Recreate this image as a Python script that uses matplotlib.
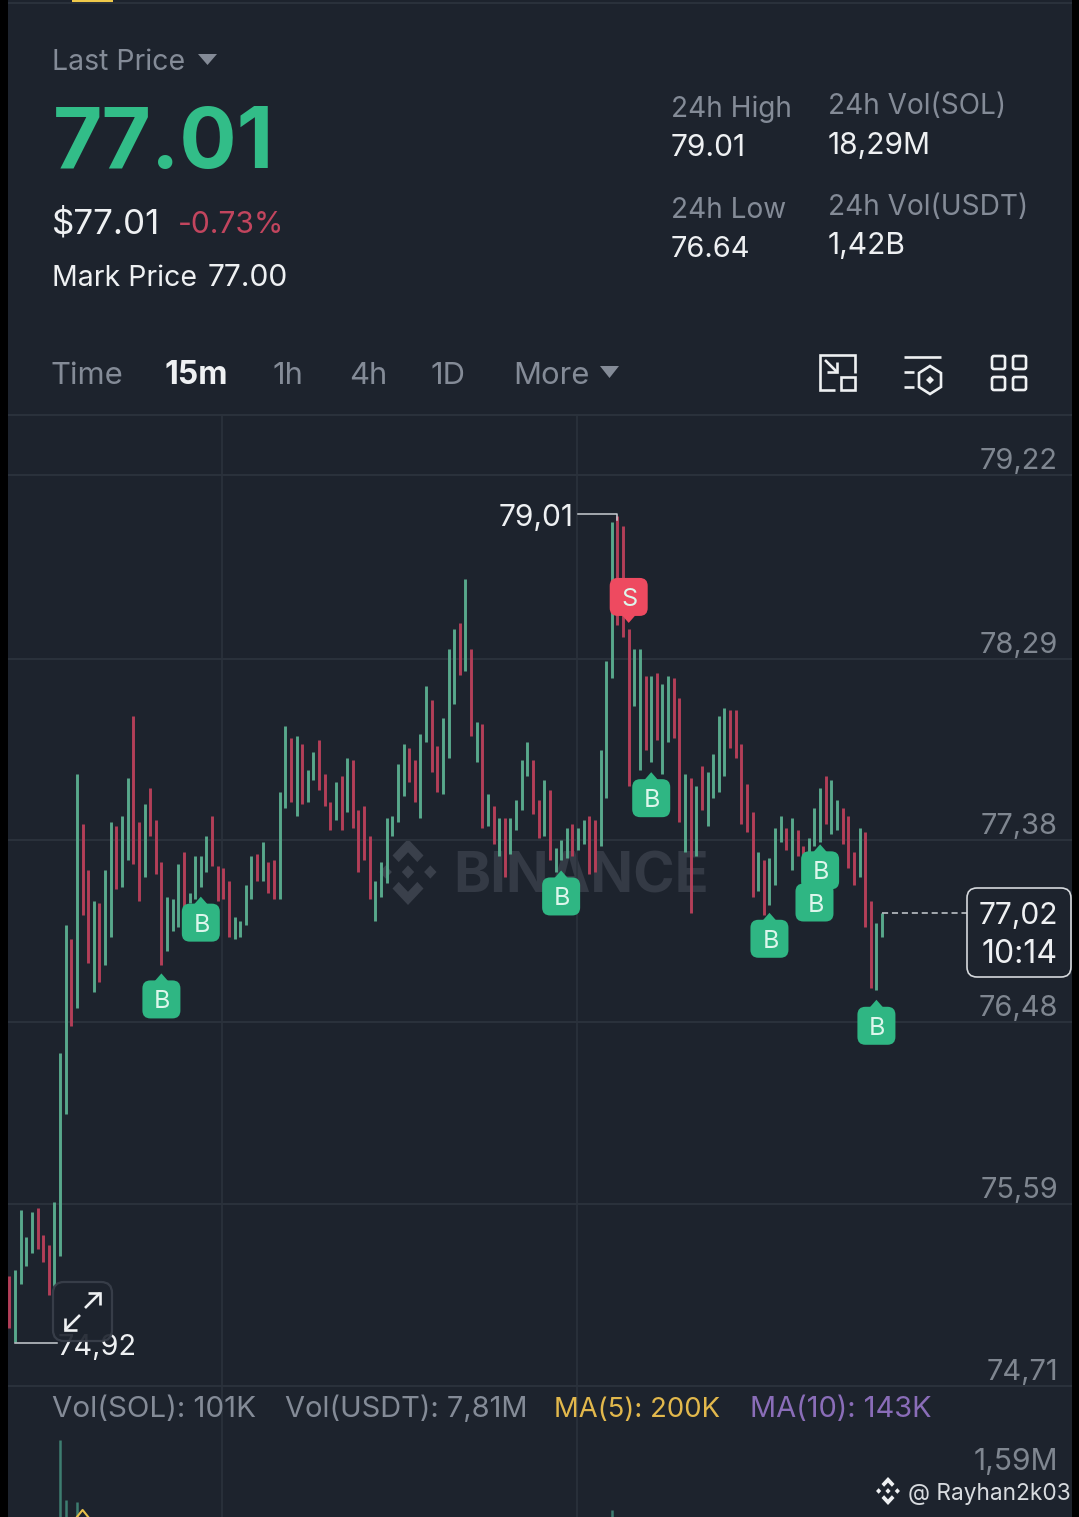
import matplotlib
matplotlib.use("Agg")
import matplotlib.pyplot as plt
from matplotlib.patches import FancyBboxPatch, Polygon, Rectangle

# candle ranges, oldest first
bar_high = [
    75.24, 75.27, 75.56, 75.43, 75.55, 75.57, 75.44, 75.39, 75.60, 76.33,
    76.96, 76.89, 77.71, 77.46, 77.23, 77.08, 77.07, 77.23, 77.47, 77.45,
    77.50, 77.69, 78.00, 77.47, 77.56, 77.64, 77.48, 77.27, 77.10, 77.09,
    77.26, 77.32, 77.12, 77.30, 77.30, 77.40, 77.50, 77.25, 77.24, 77.18,
    77.00, 76.98, 77.16, 77.30, 77.31, 77.37, 77.27, 77.28, 77.62, 77.95,
    77.89, 77.90, 77.86, 77.73, 77.82, 77.88, 77.71, 77.57, 77.67, 77.70,
    77.79, 77.78, 77.53, 77.55, 77.40, 77.18, 77.27, 77.49, 77.50, 77.76,
    77.86, 77.84, 77.78, 77.91, 78.15, 78.08, 77.85, 77.99, 78.34, 78.44,
    78.47, 78.69, 78.34, 77.97, 77.96, 77.61, 77.55, 77.49, 77.49, 77.49,
    77.58, 77.78, 77.87, 77.78, 77.58, 77.68, 77.63, 77.34, 77.38, 77.44,
    77.46, 77.44, 77.48, 77.50, 77.48, 77.83, 78.28, 78.98, 79.01, 78.96,
    78.44, 78.34, 78.34, 78.20, 78.20, 78.22, 78.16, 78.20, 78.19, 78.09,
    77.71, 77.69, 77.65, 77.75, 77.72, 77.81, 78.00, 78.04, 78.03, 78.03,
    77.86, 77.66, 77.52, 77.32, 77.28, 77.29, 77.44, 77.50, 77.44, 77.49,
    77.43, 77.35, 77.39, 77.54, 77.64, 77.70, 77.68, 77.58, 77.54, 77.50,
    77.32, 77.44, 77.42, 77.08, 76.97, 77.02,
]
bar_low = [
    74.99, 74.92, 75.20, 75.29, 75.35, 75.37, 75.31, 75.15, 75.19, 75.34,
    76.03, 76.46, 76.55, 77.01, 76.77, 76.63, 76.68, 76.76, 76.90, 77.14,
    77.15, 77.28, 77.26, 77.08, 77.20, 77.40, 77.21, 76.76, 76.83, 76.93,
    76.95, 77.05, 77.07, 77.09, 77.15, 77.22, 77.25, 77.08, 77.09, 76.90,
    76.89, 76.90, 76.96, 77.09, 77.18, 77.18, 77.12, 77.09, 77.09, 77.54,
    77.57, 77.50, 77.56, 77.57, 77.68, 77.63, 77.55, 77.43, 77.48, 77.43,
    77.52, 77.44, 77.22, 77.28, 77.09, 76.98, 77.10, 77.17, 77.40, 77.47,
    77.60, 77.67, 77.57, 77.49, 77.87, 77.72, 77.62, 77.61, 77.79, 78.06,
    78.21, 78.23, 77.90, 77.77, 77.44, 77.45, 77.36, 77.30, 77.20, 77.31,
    77.43, 77.53, 77.70, 77.51, 77.39, 77.40, 77.28, 77.22, 77.28, 77.29,
    77.30, 77.33, 77.36, 77.21, 77.22, 77.35, 77.59, 78.19, 78.46, 78.40,
    77.65, 78.05, 77.73, 77.83, 77.77, 77.88, 77.71, 77.87, 77.89, 77.47,
    77.32, 77.02, 77.30, 77.53, 77.45, 77.59, 77.62, 77.70, 77.84, 77.79,
    77.46, 77.42, 77.10, 77.13, 77.01, 77.06, 77.16, 77.37, 77.33, 77.23,
    77.30, 77.27, 77.32, 77.35, 77.37, 77.46, 77.41, 77.43, 77.36, 77.24,
    77.16, 77.20, 76.95, 76.65, 76.64, 76.90,
]
bar_dir = (
    "RGGGGRRRGG" "GRGRRGRGGR" "GGRRGRRRGG" "GRGGGGRRRR"
    "GGGGRGRRGG" "RGRGGRRRGR" "GRRRRGGGGG" "GRRGGRRGGG"
    "RGRGRGRGRG" "GGGRRGRGGG" "RGGRRGGGRR" "RGGRGRGGRR"
    "GRGRGGGGRR" "RRRGRGGGRG" "RRGGGRGGRR" "RGRRGG"
)

price_ticks = [79.22, 78.29, 77.38, 76.48, 75.59, 74.71]
price_labels = ["79,22", "78,29", "77,38", "76,48", "75,59", "74,71"]
time_ticks = [37.8, 100.9]

# only these volume bars reach into the visible part of the pane (millions)
vol_index = [9, 10, 12, 107]
vol_value = [1.59, 0.74, 0.71, 0.60]
ma5_index = [12, 13, 14]
ma5_value = [0.50, 0.60, 0.50]

badge_index = [27, 34, 98, 114, 135, 143, 144, 154, 110]
badge_price = [76.72, 77.10, 77.23, 77.72, 77.02, 77.20, 77.36, 76.59, 78.47]
badge_label = ["B", "B", "B", "B", "B", "B", "B", "B", "S"]

tabs = ["Time", "15m", "1h", "4h", "1D", "More"]
tab_x = [50, 165, 272, 349, 430, 513]

BG = "#1D232D"
GRID = "#2B323C"
GREEN = "#58A88C"
RED = "#B33F58"
BADGE_GREEN = "#2FB683"
BADGE_RED = "#EE4A60"
WHITE = "#EEF0F2"
GREY = "#848B97"
TICK = "#7F8690"

plt.rcParams["font.family"] = ["Inter", "DejaVu Sans"]

W, H = 1079, 1517
fig = plt.figure(figsize=(W / 100, H / 100), dpi=100, facecolor=BG)


def pane(x0, top, x1, bottom, zorder):
    a = fig.add_axes([x0 / W, 1 - bottom / H, (x1 - x0) / W, (bottom - top) / H], zorder=zorder)
    a.patch.set_visible(False)
    a.axis("off")
    return a


def px(size):
    # font size from a size in pixels
    return size * 0.72


back = pane(0, 0, W, H, 0)
back.set_xlim(0, W)
back.set_ylim(H, 0)
front = pane(0, 0, W, H, 5)
front.set_xlim(0, W)
front.set_ylim(H, 0)

# price pane, the exchange draws it on a log scale
ax = pane(8, 415, 1072, 1386, 2)
ax.set_xlim(-1.4 / 5.63, 1062.6 / 5.63)
ax.set_yscale("log")
ax.set_ylim(74.71, 79.527)
ax.axis("off")
for p in price_ticks:
    ax.axhline(p, color=GRID, lw=1.4)
for t in time_ticks:
    ax.axvline(t, color=GRID, lw=1.2)
colors = [GREEN if d == "G" else RED for d in bar_dir]
ax.vlines(range(len(bar_high)), bar_low, bar_high, colors=colors, lw=2.1, capstyle="butt")
for p, lab in zip(price_ticks, price_labels):
    ax.annotate(lab, (1, p), xycoords=("axes fraction", "data"), xytext=(-14, 6),
                textcoords="offset pixels", ha="right", va="baseline",
                color=TICK, fontsize=px(29), annotation_clip=False)

# volume pane
vol = pane(8, 1386, 1072, H, 2)
vol.set_xlim(ax.get_xlim())
vol.set_ylim(0.5, 2.355)
for t in time_ticks:
    vol.axvline(t, color=GRID, lw=1.2)
vol.vlines(vol_index, 0.5, vol_value, colors="#3D7D70", lw=1.8, capstyle="butt")
vol.plot(ma5_index, ma5_value, color="#E8C04A", lw=1.5)
vol.axhline(2.355, color=GRID, lw=1.4)


def to_front(i, p):
    return front.transData.inverted().transform(ax.transData.transform((i, p)))


def logo(a, cx, cy, sx, sy, color, zorder=1):
    chevron = [(0, -1), (0.5, -0.5), (0.3, -0.3), (0, -0.6), (-0.3, -0.3), (-0.5, -0.5)]
    diamond = [(0, -0.2), (0.2, 0), (0, 0.2), (-0.2, 0)]
    shapes = [chevron, [(x, -y) for x, y in chevron], diamond,
              [(x - 0.72, y) for x, y in diamond], [(x + 0.72, y) for x, y in diamond]]
    for s in shapes:
        a.add_patch(Polygon([(cx + x * sx, cy + y * sy) for x, y in s], fc=color, ec="none", zorder=zorder))


# header strip and side bars
back.add_patch(Rectangle((72, 0), 41, 3, fc="#F0C94A", ec="none"))
back.plot([8, 1072], [3, 3], color=GRID, lw=1.4)
back.plot([8, 1072], [415, 415], color=GRID, lw=1.4)
logo(back, 408, 872, 31, 33, "#3A404B")
back.text(453, 892, "BINANCE", color="#343A45", fontsize=px(56), fontweight="bold", va="baseline")
front.add_patch(Rectangle((0, 0), 8, H, fc="black", ec="none"))
front.add_patch(Rectangle((1072, 0), 7, H, fc="black", ec="none"))


def label(x, y, s, color=WHITE, size=27, weight="normal", ha="left"):
    front.text(x, y, s, color=color, fontsize=px(size), fontweight=weight, ha=ha, va="baseline")


label(52, 70, "Last Price", GREY, 28.5)
front.add_patch(Polygon([(198, 54), (217, 54), (207.5, 65)], fc=GREY, ec="none"))
label(53, 168, "77.01", "#32BD88", 85, "bold")
label(52, 233, "$77.01", WHITE, 35)
label(178, 233, "-0.73%", "#C2455E", 30)
label(52, 286, "Mark Price", WHITE, 28.5)
label(208, 286, "77.00", WHITE, 30)

label(671, 117, "24h High", GREY, 28)
label(671, 156, "79.01", WHITE, 30)
label(671, 218, "24h Low", GREY, 28)
label(671, 257, "76.64", WHITE, 29)
label(828, 114, "24h Vol(SOL)", GREY, 28)
label(828, 154, "18,29M", WHITE, 30)
label(828, 215, "24h Vol(USDT)", GREY, 28)
label(828, 254, "1,42B", WHITE, 30)

for x, s in zip(tab_x, tabs):
    if s == "15m":
        label(x, 384, s, WHITE, 32, "bold")
    else:
        label(x, 384, s, GREY, 31)
front.add_patch(Polygon([(600, 366), (619, 366), (609.5, 378)], fc=GREY, ec="none"))

# toolbar icons
ic = dict(color=WHITE, lw=1.9, solid_capstyle="butt", solid_joinstyle="miter")
front.plot([835, 820, 820, 855, 855], [390, 390, 355, 355, 373], **ic)
front.add_patch(Rectangle((841, 377), 14, 13, fc="none", ec=WHITE, lw=1.9))
front.plot([825, 837], [360, 372], **ic)
front.plot([837, 837, 827], [362, 372, 372], **ic)
front.plot([904, 941], [357, 357], **ic)
front.plot([904, 914], [372, 372], **ic)
front.plot([904, 914], [387, 387], **ic)
hexagon = [(930, 366), (941, 373), (941, 387), (930, 394), (919, 387), (919, 373)]
front.add_patch(Polygon(hexagon, fc="none", ec=WHITE, lw=1.9))
front.add_patch(Polygon([(930, 376), (934, 380), (930, 384), (926, 380)], fc=WHITE, ec="none"))
for x0 in (991, 1012):
    for y0 in (355, 376):
        front.add_patch(FancyBboxPatch((x0 + 1, y0 + 1), 13, 13, boxstyle="round,pad=0,rounding_size=2",
                                       fc="none", ec=WHITE, lw=1.9))

# high/low callouts on the candles
x_hi, y_hi = to_front(108, bar_high[108])
front.plot([578, x_hi, x_hi], [y_hi - 2, y_hi - 2, y_hi + 4], color="#C9CDD2", lw=1.1)
label(499, 526, "79,01", WHITE, 30)
x_lo, y_lo = to_front(1, bar_low[1])
front.plot([x_lo, 57], [y_lo + 1, y_lo + 1], color="#C9CDD2", lw=1.1)

# expand button
label(58, 1355, "74,92", WHITE, 29)
front.add_patch(FancyBboxPatch((53, 1282), 59, 59, boxstyle="round,pad=0,rounding_size=11",
                               fc=BG, ec="#3A404B", lw=1.6, alpha=0.92, zorder=4))
arrow = dict(color=WHITE, lw=1.9, solid_capstyle="butt", solid_joinstyle="miter", zorder=6)
front.plot([85, 100], [1308, 1293], **arrow)
front.plot([88, 100, 100], [1293, 1293, 1305], **arrow)
front.plot([80, 65], [1315, 1330], **arrow)
front.plot([65, 65, 77], [1318, 1330, 1330], **arrow)

# live price tag
x_last, y_last = to_front(len(bar_high) - 1, bar_high[-1])
front.plot([x_last, 967], [y_last, y_last], color="#C9CDD2", lw=1.1, ls=(0, (4, 2.5)))
front.add_patch(FancyBboxPatch((967, 888), 104, 89, boxstyle="round,pad=0,rounding_size=10",
                               fc=BG, ec="#D5D8DC", lw=1.2, zorder=4))
front.text(1058, 924, "77,02", color=WHITE, fontsize=px(30), ha="right", va="baseline", zorder=6)
front.text(1058, 963, "10:14", color=WHITE, fontsize=px(32), ha="right", va="baseline", zorder=6)

# buy / sell badges
for i, p, s in zip(badge_index, badge_price, badge_label):
    x, tip = to_front(i, p)
    if s == "B":
        c, cy, base = BADGE_GREEN, tip + 26, tip + 8
    else:
        c, cy, base = BADGE_RED, tip - 26, tip - 8
    front.add_patch(Polygon([(x, tip), (x + 7, base), (x - 7, base)], fc=c, ec="none", zorder=4))
    front.add_patch(FancyBboxPatch((x - 19, cy - 19), 38, 38, boxstyle="round,pad=0,rounding_size=8",
                                   fc=c, ec="none", zorder=4))
    front.text(x + 1, cy + 9, s, color="#DDF6EC", fontsize=px(25), ha="center", va="baseline", zorder=6)

# volume legend
label(52, 1417, "Vol(SOL): 101K", GREY, 29.5)
label(285, 1417, "Vol(USDT): 7,81M", GREY, 29)
label(554, 1417, "MA(5): 200K", "#E2B84C", 27.5)
label(750, 1417, "MA(10): 143K", "#8A6DB8", 29)
label(1058, 1470, "1,59M", TICK, 30, ha="right")
logo(front, 888, 1491, 13, 14, WHITE, 6)
label(908, 1500, "@ Rayhan2k03", "#D8DBDF", 22.7)

fig.savefig("out.png", dpi=100, facecolor=BG)
